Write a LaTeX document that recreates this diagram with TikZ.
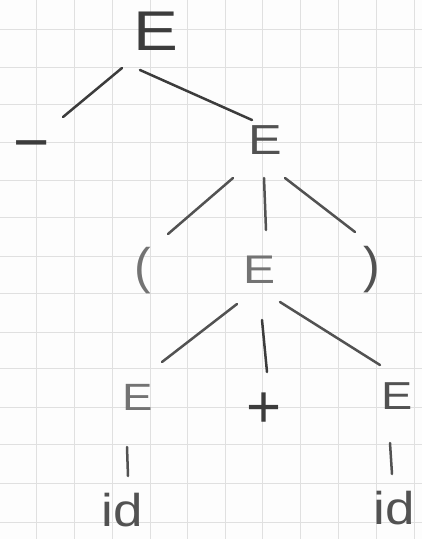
\documentclass[tikz,border=0pt]{standalone}
\usepackage{fontspec}
\newfontfamily\hand{Liberation Sans}
\definecolor{paper}{HTML}{FDFDFD}
\definecolor{gridc}{HTML}{E0E0E0}
\definecolor{pencil}{HTML}{525252}
\definecolor{pencild}{HTML}{3C3C3C}
\definecolor{pencill}{HTML}{737373}
\tikzset{
  sym/.style={inner sep=0pt, outer sep=0pt, font=\hand, text=pencil},
  wide/.style={xscale=1.2},
  edge/.style={draw=pencil, line width=2.5pt, line cap=round},
  gridline/.style={draw=gridc, line width=0.7pt}
}
\newcommand{\fsz}[1]{\fontsize{#1}{#1}\selectfont}
\begin{document}
\begin{tikzpicture}[x=1pt,y=-1pt]
\fill[paper] (0,0) rectangle (422,539);
\useasboundingbox (0,0) rectangle (422,539);
% graph paper
\foreach \gx in {36,74,112,150,187,225,262,300,338,376,414}
  \draw[gridline] (\gx,0) -- (\gx,539);
\foreach \gy in {29,67,104,142,180,217,256,293,332,368,407,444,483,522}
  \draw[gridline] (0,\gy) -- (422,\gy);
% nodes
\node[sym, wide, text=pencild, font=\hand\fsz{56}] (root) at (156,31) {E};
\node[sym, text=pencild, font=\hand\fsz{62}] (minus) at (32,152) {−};
\node[sym, wide, font=\hand\fsz{42}] (e2) at (265,140) {E};
\node[sym, text=pencill, font=\hand\fsz{50}] (lp) at (143,271) {(};
\node[sym, wide, text=pencill, font=\hand\fsz{40}] (e3) at (260,270) {E};
\node[sym, font=\hand\fsz{50}] (rp) at (372,270) {)};
\node[sym, wide, text=pencill, font=\hand\fsz{38}] (e4) at (138,397) {E};
\node[sym, text=pencild, font=\hand\fsz{60}] (plus) at (264,410) {+};
\node[sym, wide, font=\hand\fsz{39}] (e5) at (397,396) {E};
\node[sym, xscale=1.15, font=\hand\fsz{46}] (id1) at (122,510) {id};
\node[sym, xscale=1.15, font=\hand\fsz{46}] (id2) at (394,508) {id};
% connectors
\draw[edge, draw=pencild] ([shift={(-34,37)}]root.center) -- ([shift={(31,-35)}]minus.center);
\draw[edge, draw=pencild] ([shift={(-16,39)}]root.center) -- ([shift={(-13,-20)}]e2.center);
\draw[edge] ([shift={(-32,38)}]e2.center) -- ([shift={(25,-37)}]lp.center);
\draw[edge] ([shift={(-1,38)}]e2.center) -- ([shift={(6,-40)}]e3.center);
\draw[edge] ([shift={(20,38)}]e2.center) -- ([shift={(-17,-38)}]rp.center);
\draw[edge] ([shift={(-23,34)}]e3.center) -- ([shift={(24,-35)}]e4.center);
\draw[edge, draw=pencild] ([shift={(2,50)}]e3.center) -- ([shift={(3,-38)}]plus.center);
\draw[edge] ([shift={(20,32)}]e3.center) -- ([shift={(-17,-31)}]e5.center);
\draw[edge] ([shift={(-11,50)}]e4.center) -- ([shift={(6,-34)}]id1.center);
\draw[edge] ([shift={(-7,47)}]e5.center) -- ([shift={(-2,-34)}]id2.center);
\end{tikzpicture}
\end{document}
